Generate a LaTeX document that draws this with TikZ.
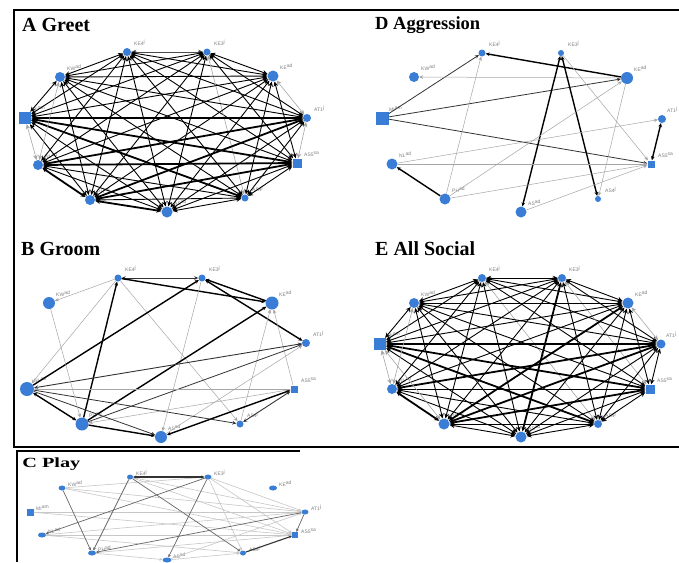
\documentclass[tikz,border=0pt]{standalone}
\usepackage{fontspec}
\setmainfont{Liberation Serif}
\newfontfamily\lblfont{Liberation Sans}
\usetikzlibrary{arrows.meta,shapes.geometric}
\definecolor{nblue}{RGB}{58,125,214}
\newcommand\sj{\textsuperscript{j}}
\newcommand\sad{\textsuperscript{ad}}
\newcommand\sam{\textsuperscript{am}}
\newcommand\ssa{\textsuperscript{sa}}
% node + label: [label x offset]{name}{x}{y}{style}{label}
\newcommand\gn[6][7]{\node[#5] (#2) at (#3,#4) {}; \node[lbl] (#2-l) at ({#3+#1},{#4-9}) {#6};}
\newcommand\gc[5]{\node[#4] (#1) at (#2,#3) {}; \node[lbl] (#1-l) at ({#2+6},{#3-4}) {#5};}
\tikzset{
  >={Stealth[length=4pt,width=3.6pt]},
  big/.style={{Stealth[length=5pt,width=4.6pt]}-{Stealth[length=5pt,width=4.6pt]}},
  nd/.style={circle, fill=nblue, inner sep=0pt, minimum size=#1},
  sq/.style={rectangle, fill=nblue, inner sep=0pt, minimum size=#1},
  ne/.style={ellipse, fill=nblue, inner sep=0pt, minimum width=#1, minimum height=5},
  lbl/.style={font=\lblfont\fontsize{5}{5}\selectfont, text=black!50, inner sep=0pt, anchor=west},
  ttl/.style={font=\bfseries\fontsize{20}{20}\selectfont, anchor=base west, inner sep=0pt},
  frame/.style={draw=black, line width=2.4pt},
  Ed/.style={draw=black, line width=0.9pt, big},
  Et/.style={draw=black, line width=1.8pt, big},
  Em/.style={draw=black!70, line width=0.7pt, big},
  El/.style={draw=black!35, line width=0.6pt, big},
  Bt/.style={draw=black, line width=1.4pt, ->},
  BT/.style={draw=black, line width=1.4pt, <->},
  Bm/.style={draw=black!80, line width=0.8pt, ->},
  BM/.style={draw=black!80, line width=0.9pt, <->},
  Bl/.style={draw=black!35, line width=0.5pt, ->},
  Cl/.style={draw=black!22, line width=0.6pt, -{Stealth[length=3pt,width=3pt]}},
  Cm/.style={draw=black!60, line width=0.7pt, -{Stealth[length=3pt,width=3pt]}},
  Ct/.style={draw=black!80, line width=1.1pt, -{Stealth[length=3pt,width=3pt]}},
  CT/.style={draw=black!80, line width=1.1pt, {Stealth[length=3pt,width=3pt]}-{Stealth[length=3pt,width=3pt]}},
}
\begin{document}
\begin{tikzpicture}[x=1pt,y=-1pt]
\useasboundingbox[fill=white] (0,0) rectangle (679,562);
% frames
\draw[frame] (679,10) -- (14,10) -- (14,447) -- (679,447);
\draw[draw=black, line width=2pt] (300,450.5) -- (17,450.5) -- (17,562);
% titles
\node[ttl] (tA) at (22,31) {A Greet};
\node[ttl, font=\bfseries\fontsize{18.5}{18.5}\selectfont] (tD) at (375,29) {D Aggression};
\node[ttl] (tB) at (21,255) {B Groom};
\node[ttl] (tE) at (375,255) {E All Social};
\node[ttl, font=\bfseries\fontsize{14}{14}\selectfont, xscale=1.45, anchor=base west] (tC) at (22,467) {C Play};

% ---------------- Panel A ----------------
\gn{A-KE4}{127}{52}{nd=8}{KE4\sj}
\gn{A-KE3}{207}{52}{nd=7}{KE3\sj}
\gn{A-KE}{273}{76}{nd=11}{KE\sad}
\gn{A-AT1}{307}{118}{nd=8}{AT1\sj}
\gn{A-AS5}{297}{163}{sq=9}{AS5\ssa}
\gn{A-AS4}{245}{198}{nd=7}{AS4\sj}
\gn{A-AS}{167}{212}{nd=11}{AS\sad}
\gn{A-PH}{90}{200}{nd=10}{PH\sad}
\gn{A-NL}{38}{165}{nd=10}{NL\sad}
\gn{A-MI}{25}{118}{sq=12}{MI\sam}
\gn{A-KW}{60}{77}{nd=10}{KW\sad}
\foreach \a/\b/\s in {
KE4/KE3/Em, KE4/KE/Ed, KE4/AT1/Ed, KE4/AS5/Ed, KE4/AS4/Ed, KE4/AS/Ed, KE4/PH/Ed, KE4/NL/Ed, KE4/MI/Ed, KE4/KW/Ed,
KE3/KE/Ed, KE3/AT1/Ed, KE3/AS5/Ed, KE3/AS4/El, KE3/AS/Ed, KE3/PH/Ed, KE3/NL/Ed, KE3/MI/Ed, KE3/KW/Ed,
KE/AT1/El, KE/AS5/Ed, KE/AS4/Ed, KE/AS/Ed, KE/PH/Ed, KE/NL/Ed, KE/MI/Ed, KE/KW/Ed,
AT1/AS5/El, AT1/AS4/Ed, AT1/AS/Ed, AT1/PH/Et, AT1/NL/Et, AT1/MI/Et, AT1/KW/Ed,
AS5/AS4/Ed, AS5/AS/Ed, AS5/PH/Et, AS5/NL/Et, AS5/MI/Et, AS5/KW/Ed,
AS4/AS/Ed, AS4/PH/Ed, AS4/NL/Ed, AS4/MI/Et, AS4/KW/Ed,
AS/PH/Et, AS/NL/Ed, AS/MI/Ed, AS/KW/Ed,
PH/NL/Et, PH/MI/Ed, PH/KW/Ed,
NL/MI/El, NL/KW/El,
MI/KW/Ed}
\path[\s] (A-\a) -- (A-\b);

% ---------------- Panel D ----------------
\gn{D-KE4}{482}{53}{nd=7}{KE4\sj}
\gn{D-KE3}{561}{53}{nd=6}{KE3\sj}
\gn{D-KE}{627}{78}{nd=12}{KE\sad}
\gn[5]{D-AT1}{662}{119}{nd=8}{AT1\sj}
\gn{D-AS5}{651}{164}{sq=7}{AS5\ssa}
\gn{D-AS4}{598}{199}{nd=6}{AS4\sj}
\gn{D-AS}{521}{212}{nd=11}{AS\sad}
\gn{D-PH}{445}{199}{nd=11}{PH\sad}
\gn{D-NL}{392}{164}{nd=11}{NL\sad}
\gn{D-MI}{382}{118}{sq=13}{MI\sam}
\gn{D-KW}{414}{77}{nd=10}{KW\sad}
\foreach \a/\b/\s in {
MI/KE4/Bm, KE/KE4/Bt, KE/KW/Bl, MI/KE/Bm, MI/AS5/Bm, KE3/AS/BT, KE3/AS4/BT,
KE3/AS5/Bl, KE/AS4/Bl, PH/KE4/Bl, PH/KE/Bl, PH/NL/Bt, PH/AS5/Bl, NL/AS5/Bl,
NL/AT1/Bl, AS5/AT1/BT, AS/AS5/Bl}
\path[\s] (D-\a) -- (D-\b);

% ---------------- Panel B ----------------
\gn{B-KE4}{118}{278}{nd=7}{KE4\sj}
\gn{B-KE3}{202}{278}{nd=7}{KE3\sj}
\gn{B-KE}{272}{303}{nd=13}{KE\sad}
\gn{B-AT1}{306}{343}{nd=8}{AT1\sj}
\gn{B-AS5}{294}{389}{sq=7}{AS5\ssa}
\gn{B-AS4}{240}{424}{nd=7}{AS4\sj}
\gn{B-AS}{161}{437}{nd=12}{AS\sad}
\gn{B-PH}{82}{424}{nd=13}{PH\sad}
\gn{B-NL}{27}{389}{nd=14}{NL\sad}
\gn{B-KW}{49}{303}{nd=12}{KW\sad}
\foreach \a/\b/\s in {
KE4/KE3/BM, KE4/KE/Bt, KE/KE3/Bt, KE3/AT1/BT, KE4/KW/Bl, KE4/NL/Bl, PH/KE4/Bt,
KE4/AS4/Bl, NL/KE3/Bt, KE3/AS/Bl, PH/KE/Bt, AS4/KE/Bl, AS5/KE/Bl, NL/AT1/BM,
PH/AT1/Bm, AS/AT1/Bl, AS5/NL/Bl, AS5/AS/BT, AS5/AS4/BM, AS5/PH/Bl, NL/PH/BT,
NL/AS/Bm, NL/AS4/Bm, PH/AS/Bt, KW/PH/Bl}
\path[\s] (B-\a) -- (B-\b);

% ---------------- Panel E ----------------
\gn{E-KE4}{482}{278}{nd=8}{KE4\sj}
\gn{E-KE3}{562}{278}{nd=8}{KE3\sj}
\gn{E-KE}{628}{303}{nd=11}{KE\sad}
\gn[5]{E-AT1}{661}{344}{nd=9}{AT1\sj}
\gn{E-AS5}{650}{389}{sq=9}{AS5\ssa}
\gn{E-AS4}{598}{424}{nd=8}{AS4\sj}
\gn{E-AS}{521}{437}{nd=11}{AS\sad}
\gn{E-PH}{444}{424}{nd=11}{PH\sad}
\gn{E-NL}{392}{389}{nd=10}{NL\sad}
\gn{E-MI}{380}{344}{sq=12}{MI\sam}
\gn{E-KW}{414}{303}{nd=10}{KW\sad}
\foreach \a/\b/\s in {
KE4/KE3/Ed, KE4/KE/Ed, KE4/AT1/Ed, KE4/AS5/Ed, KE4/AS4/El, KE4/AS/Ed, KE4/PH/Ed, KE4/NL/Ed, KE4/MI/Ed, KE4/KW/Ed,
KE3/KE/Ed, KE3/AT1/Ed, KE3/AS5/El, KE3/AS4/Ed, KE3/AS/Et, KE3/PH/Ed, KE3/NL/Ed, KE3/MI/Ed, KE3/KW/Ed,
KE/AT1/El, KE/AS5/Ed, KE/AS4/Ed, KE/AS/Ed, KE/PH/Et, KE/NL/Ed, KE/MI/Ed, KE/KW/Ed,
AT1/AS5/Ed, AT1/AS4/Ed, AT1/AS/Ed, AT1/PH/Et, AT1/NL/Et, AT1/MI/Et, AT1/KW/Ed,
AS5/AS4/Ed, AS5/AS/Ed, AS5/PH/Et, AS5/NL/Ed, AS5/MI/Et, AS5/KW/Ed,
AS4/AS/Ed, AS4/PH/Ed, AS4/NL/Ed, AS4/MI/Et, AS4/KW/Ed,
AS/PH/Ed, AS/NL/Ed, AS/MI/Ed, AS/KW/Ed,
PH/NL/Et, PH/MI/El, PH/KW/Ed,
NL/MI/El, NL/KW/El,
MI/KW/Ed}
\path[\s] (E-\a) -- (E-\b);

% ---------------- Panel C ----------------
\gc{C-KE4}{130}{477}{ne=6}{KE4\sj}
\gc{C-KE3}{208}{477}{ne=7}{KE3\sj}
\gc{C-KE}{273}{488}{ne=8}{KE\sad}
\gc{C-AT1}{305}{512}{ne=7}{AT1\sj}
\gc{C-AS5}{295}{535}{sq=6}{AS5\ssa}
\gc{C-AS4}{243}{553}{ne=6}{AS4\sj}
\gc{C-AS}{167}{560}{ne=9}{AS\sad}
\gc{C-PH}{92}{553}{ne=8}{PH\sad}
\gc{C-NL}{42}{535}{ne=8}{NL\sad}
\gc{C-MI}{30}{512}{sq=7}{MI\sam}
\gc{C-KW}{62}{488}{ne=7}{KW\sad}
\foreach \a/\b/\s in {
KE3/AS4/Cl, KE4/AS5/Cl, KE4/AT1/Cl, KW/KE3/Cl, KW/AT1/Cl, KW/AS5/Cl, MI/AT1/Cl,
MI/AS5/Cl, NL/AT1/Cl, NL/AS5/Cl, PH/AS5/Cl, PH/AS/Cl, AS/AT1/Cl, AS/AS4/Cl,
KE3/AT1/Cl, KE3/AS5/Cl, NL/AS4/Cl, KE4/PH/Cm,
KE4/KE3/CT, KE4/AS4/Cm, KE3/AS/Cm, KE3/NL/Cm, KW/PH/Cm, AS4/AS5/Ct,
AT1/AS5/Cm, AT1/PH/Cm}
\path[\s] (C-\a) -- (C-\b);
\end{tikzpicture}
\end{document}
